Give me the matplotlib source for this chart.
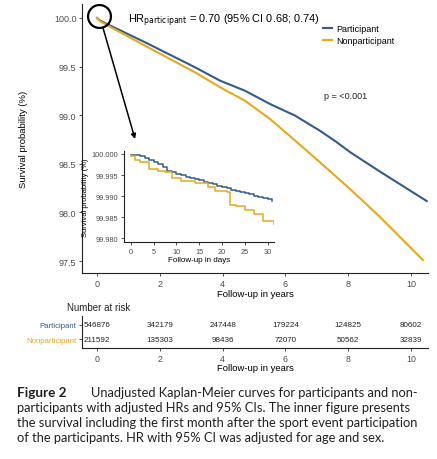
import matplotlib
matplotlib.use("Agg")
import matplotlib.pyplot as plt

plt.rcParams["font.family"] = ["Liberation Sans", "DejaVu Sans"]

# colours
BLUE = "#335C8C"
GOLD = "#E7A91B"

# main curves (years, survival %)
part_years = [0, 0.1, 1.53, 3.12, 3.92, 4.71, 5.51, 6.31, 7.1, 7.6, 8.06, 9.01, 10.5]
part_surv = [100.0, 99.972, 99.75, 99.493, 99.355, 99.252, 99.115, 98.995, 98.84, 98.73, 98.62, 98.42, 98.117]

nonpart_years = [0, 0.1, 1.53, 2.32, 3.12, 3.92, 4.71, 5.51, 6.31, 7.1, 7.58, 8.06, 9.01, 10.38]
nonpart_surv = [100.0, 99.965, 99.715, 99.578, 99.441, 99.287, 99.149, 98.961, 98.738, 98.516, 98.378, 98.24, 97.953, 97.51]

# inset: first month (days)
part_days = list(range(0, 32))
part_days_surv = [99.9998, 99.9997, 99.9994, 99.9991, 99.9986, 99.9980, 99.9975, 99.9968,
                  99.9960, 99.9956, 99.9952, 99.9949, 99.9946, 99.9943, 99.9940, 99.9937,
                  99.9934, 99.9931, 99.9928, 99.9924, 99.9921, 99.9918, 99.9915, 99.9912,
                  99.9910, 99.9907, 99.9904, 99.9901, 99.9898, 99.9895, 99.9892, 99.9889]

nonpart_days = [0, 1, 2, 4, 6, 7.5, 9, 11, 14, 17, 18.5, 21, 21.7, 23, 25, 27, 29, 31.4]
nonpart_days_surv = [99.9994, 99.9986, 99.9980, 99.9964, 99.9960, 99.9956, 99.9942, 99.9936,
                     99.9932, 99.9922, 99.9912, 99.9910, 99.9880, 99.9876, 99.9868, 99.9858,
                     99.9842, 99.9834]

# number at risk
risk_times = [0, 2, 4, 6, 8, 10]
risk_part = [546876, 342179, 247448, 179224, 124825, 80602]
risk_nonpart = [211592, 135303, 98436, 72070, 50562, 32839]

hr_text = r"HR$_{\mathrm{participant}}$ = 0.70 (95% CI 0.68; 0.74)"
p_text = "p = <0.001"

caption_bold = "Figure 2"
caption_lines = [
    "Unadjusted Kaplan-Meier curves for participants and non-",
    "participants with adjusted HRs and 95% CIs. The inner figure presents",
    "the survival including the first month after the sport event participation",
    "of the participants. HR with 95% CI was adjusted for age and sex.",
]

W, H = 437, 460
fig = plt.figure(figsize=(W / 100, H / 100), dpi=100)


def px_axes(l, t, r, b):
    return fig.add_axes([l / W, 1 - b / H, (r - l) / W, (b - t) / H])


def style(ax, fs):
    for s in ["top", "right"]:
        ax.spines[s].set_visible(False)
    for s in ["left", "bottom"]:
        ax.spines[s].set_linewidth(0.8)
        ax.spines[s].set_color("#222222")
    ax.tick_params(length=2.5, width=0.6, color="#333333", labelsize=fs,
                   labelcolor="#4D4D4D", pad=1.5)


# ---- main plot ----
ax = px_axes(82, 5, 428, 274)
ax.plot(part_years, part_surv, color=BLUE, lw=1.5, label="Participant")
ax.plot(nonpart_years, nonpart_surv, color=GOLD, lw=1.5, label="Nonparticipant")
ax.set_xlim(-0.48, 10.54)
ax.set_ylim(97.377, 100.144)
ax.set_xticks(risk_times)
ax.set_yticks([97.5, 98.0, 98.5, 99.0, 99.5, 100.0])
ax.set_yticklabels(["97.5", "98.0", "98.5", "99.0", "99.5", "100.0"])
style(ax, 6.5)
ax.set_xlabel("Follow-up in years", fontsize=6.8, labelpad=1)
ax.set_ylabel("Survival probability (%)", fontsize=6.8, labelpad=19)

ax.text(0.133, 0.9405, hr_text, transform=ax.transAxes, fontsize=7.9,
        va="center", ha="left")
ax.text(0.699, 0.658, p_text, transform=ax.transAxes, fontsize=6.5,
        va="center", ha="left", color="#222222")
ax.legend(loc="upper left", bbox_to_anchor=(0.697, 0.925), frameon=False,
          fontsize=6.5, handlelength=1.0, handletextpad=0.5, labelspacing=0.3,
          borderpad=0, borderaxespad=0)

# circle + arrow pointing to the inset
ax.plot([0.06], [100.02], marker="o", ms=16.5, mfc="none", mec="black",
        mew=1.6, clip_on=False)
ax.annotate("", xy=(1.21, 98.755), xytext=(0.19, 99.897),
            arrowprops=dict(arrowstyle="-|>", color="black", lw=1.1,
                            mutation_scale=7, shrinkA=0, shrinkB=0))

# ---- inset ----
axi = px_axes(124, 152, 274, 243)
axi.plot(part_days, part_days_surv, color=BLUE, lw=1.1, drawstyle="steps-post")
axi.plot(nonpart_days, nonpart_days_surv, color=GOLD, lw=1.1, drawstyle="steps-post")
axi.set_xlim(-1.5, 31.4)
axi.set_ylim(99.9791, 100.0007)
axi.set_xticks([0, 5, 10, 15, 20, 25, 30])
axi.set_yticks([99.980, 99.985, 99.990, 99.995, 100.000])
axi.set_yticklabels(["99.980", "99.985", "99.990", "99.995", "100.000"])
style(axi, 5.3)
axi.set_xlabel("Follow-up in days", fontsize=5.8, labelpad=1)
axi.set_ylabel("Survival probability (%)", fontsize=5.5, labelpad=2)

# ---- risk table ----
axr = px_axes(82, 317, 428, 349)
for t, a, b in zip(risk_times, risk_part, risk_nonpart):
    axr.text(t, 1, str(a), ha="center", va="center", fontsize=5.8, color="#222222")
    axr.text(t, 0, str(b), ha="center", va="center", fontsize=5.8, color="#222222")
axr.set_xlim(-0.48, 10.54)
axr.set_ylim(-0.6, 1.6)
axr.set_xticks(risk_times)
axr.set_yticks([1, 0])
axr.set_yticklabels(["Participant", "Nonparticipant"])
style(axr, 5.6)
axr.tick_params(axis="x", labelsize=6.3)
for lab, c in zip(axr.get_yticklabels(), [BLUE, GOLD]):
    lab.set_color(c)
axr.set_xlabel("Follow-up in years", fontsize=6.8, labelpad=0.5)
fig.text(67 / W, 1 - 308 / H, "Number at risk", fontsize=7, va="center",
         ha="left", color="#222222")

# ---- caption ----
# font size chosen so the widest line spans the same width as in the print
cap_font = ["Lato", "DejaVu Sans"]
cap_y = [393, 408, 423, 438]
cap_x0 = [91, 17, 17, 17]
renderer = fig.canvas.get_renderer()

probe = fig.text(0, 0, caption_lines[2], fontsize=9, family=cap_font)
cap_fs = 9 * (421 - 17) / probe.get_window_extent(renderer).width
probe.remove()

fig.text(17 / W, 1 - cap_y[0] / H, caption_bold, fontsize=cap_fs * 1.05,
         fontweight="bold", va="center", ha="left", family=cap_font,
         color="#231F20")

for y, x0, line in zip(cap_y, cap_x0, caption_lines):
    fig.text(x0 / W, 1 - y / H, line, fontsize=cap_fs, va="center", ha="left",
             family=cap_font, color="#231F20")

fig.savefig("out.png", dpi=100)
